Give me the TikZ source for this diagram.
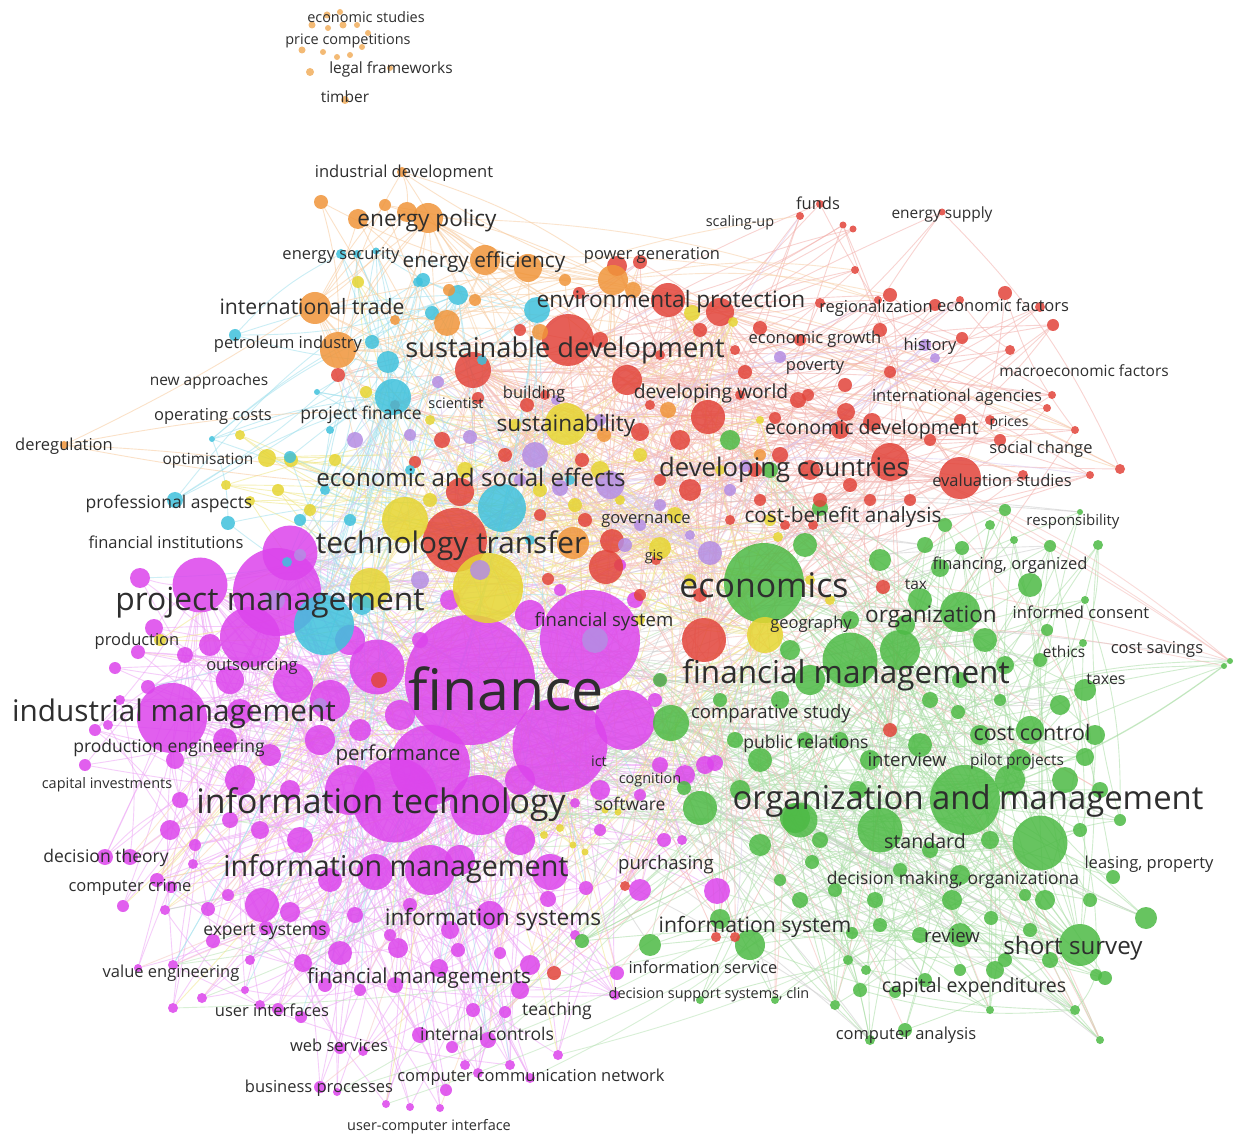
\documentclass[tikz,border=0pt]{standalone}
\usepackage{fontspec}
\setmainfont{Open Sans}
\pgfdeclarelayer{bglayer}
\pgfdeclarelayer{edgelayer}
\pgfsetlayers{bglayer,edgelayer,main}
\definecolor{cM}{HTML}{DC44EC}
\definecolor{cG}{HTML}{4DBA45}
\definecolor{cR}{HTML}{E2443A}
\definecolor{cC}{HTML}{3FC1DC}
\definecolor{cO}{HTML}{F0953A}
\definecolor{cOl}{HTML}{F2AE5E}
\definecolor{cY}{HTML}{E6D531}
\definecolor{cP}{HTML}{B48DE3}
\tikzset{
 bub/.style={circle, inner sep=0pt, outer sep=0pt, draw=none, fill opacity=0.85},
 lbl/.style={text=black!82, inner sep=0pt, anchor=base},
 edge/.style={line width=0.9pt, draw opacity=0.55},
}
\newcommand\clusteredges[4]{%
 \foreach \ci in {1,...,#2}{%
   \pgfmathrandominteger{\cj}{1}{#3}%
   \ifnum\ci=\cj\else \draw[edge,draw=#4] (#1\ci) to[bend left=8] (#1\cj);\fi
   \pgfmathrandominteger{\cj}{1}{#3}%
   \ifnum\ci=\cj\else \draw[edge,draw=#4] (#1\ci) to[bend right=6] (#1\cj);\fi
   \pgfmathrandominteger{\ck}{1}{#2}%
   \ifnum\ci=\ck\else \draw[edge,draw=#4] (#1\ci) to[bend right=10] (#1\ck);\fi
 }}
\newcommand\crossedges[6]{% prefixA, maxA, prefixB, maxB, count, color
 \foreach \ct in {1,...,#5}{%
   \pgfmathrandominteger{\ea}{1}{#2}%
   \pgfmathrandominteger{\eb}{1}{#4}%
   \draw[edge,draw=#6] (#1\ea) to[bend left=9] (#3\eb);
 }}
\begin{document}
\begin{tikzpicture}[x=1pt,y=-1pt]
\begin{pgfonlayer}{bglayer}
\fill[white] (0,0) rectangle (1254,1147);
\end{pgfonlayer}
\useasboundingbox (0,0) rectangle (1254,1147);
\pgfmathsetseed{12}
% ---------- magenta cluster
\foreach \x/\y/\dd [count=\i] in {
470/680/130, 590/640/100, 560/745/95, 430/765/80, 625/720/60, 395/800/85, 480/805/60, 350/790/50,
277/592/88, 200/585/55, 290/553/55, 250/637/60, 293/683/40, 172/718/70, 377/667/55, 330/700/40,
430/870/50, 550/872/36, 375/872/36, 262/905/34, 300/840/26, 240/780/30, 225/740/24, 320/740/30,
400/715/30, 350/640/30, 140/578/20, 154/628/18, 115/668/12, 148/687/14, 95/730/12, 85/765/12,
138/652/14, 185/655/16, 210/645/22, 230/680/28, 175/760/18, 270/755/22, 290/790/20, 180/800/16,
170/830/20, 230/820/16, 260/830/18, 195/845/12,
105/857/16, 130/857/16, 157/880/14, 171/887/12, 123/906/12, 193/864/10, 208/909/14, 228/895/12,
290/912/20, 330/880/24, 490/915/28, 548/899/16, 586/888/14, 640/890/22, 717/891/26, 664/840/14, 682/840/10, 600/830/12, 575/803/10, 705/765/18, 660/765/16, 640/795/12,
340/953/24, 398/948/20, 439/968/18, 458/950/14, 530/965/20, 520/990/18, 473/1010/14, 505/1012/12, 420/1035/16, 452/1047/12, 488/1040/16, 465/1065/10, 478/1073/10, 510/1065/10, 530/1078/10, 558/1055/10, 615/995/10, 617/973/14, 446/1090/12, 386/1104/8, 410/1107/8, 440/1108/8, 340/1048/12, 363/1051/10, 320/1087/12, 337/1092/8, 213/941/14, 278/1009/12, 301/1017/12, 202/998/10, 173/1008/10, 173/965/10, 138/968/8, 303/963/18, 325/985/14, 360/990/12, 395/985/16, 250/960/10, 266/928/14, 320/930/20, 355/915/16, 410/905/14, 390/935/12, 450/930/18, 575/935/10, 500/953/12,
260/1005/10, 245/990/8, 165/910/10,
655/700/14, 660/680/12, 635/600/16, 560/590/12, 530/615/30, 620/565/12, 450/600/20, 420/640/16, 360/730/22, 460/860/30, 520/840/30, 240/712/26, 120/700/10, 108/725/10, 685/775/20, 715/763/16, 600/790/20, 520/780/30}
{\node[bub,fill=cM,minimum size=\dd pt] (M\i) at (\x,\y) {}; \xdef\NM{\i}}
% ---------- green cluster
\foreach \x/\y/\dd [count=\i] in {
764/583/80, 850/660/55, 965/800/70, 1040/843/55, 880/830/45, 960/612/40, 900/650/40, 1080/945/42, 700/808/34, 800/820/35, 1010/780/30, 810/680/30, 671/723/36,
920/600/24, 1146/918/22, 1113/877/14, 1030/585/24, 1085/600/8, 880/560/22, 962/548/14, 1014/540/8, 1098/545/10, 1050/546/12, 1080/512/6, 1040/660/14, 1047/630/12, 1083/643/8, 1085/690/22, 1060/705/20, 1030/730/28, 1095/735/20, 1085/757/18, 958/712/14, 795/818/30, 760/845/22, 820/840/16, 858/790/18, 952/900/20, 960/875/20, 991/918/14, 920/935/16, 960/935/24, 1005/960/14, 995/970/18, 852/933/12, 848/960/10, 895/992/12, 905/1030/14, 750/945/30, 720/919/20, 650/945/22, 582/941/14, 812/862/14, 1075/1010/10, 1025/895/12, 684/788/14, 805/740/16, 805/545/24, 730/440/20, 770/470/16, 820/508/16, 945/525/14, 925/545/16, 1005/510/12, 990/525/10, 940/568/18, 905/625/20, 985/640/24, 1005/665/18, 960/680/16, 930/700/16, 1000/700/12, 980/735/20, 920/745/24, 870/760/20, 840/740/16, 760/760/24, 735/740/16, 720/700/14, 780/700/18, 790/650/20, 850/620/18, 1020/760/22, 1065/780/26, 1100/790/16, 1080/830/14, 1120/820/12, 990/840/18, 930/850/16, 900/870/14, 875/900/16, 835/890/14, 800/900/16, 780/880/12, 1045/900/20, 1090/900/14, 1030/930/14, 1050/960/16, 960/970/12, 925/980/14, 860/990/14, 835/1005/10, 775/1000/8, 700/1000/8, 870/1040/10, 990/1010/8, 1100/1040/8, 1224/666/6, 1230/661/6, 1096/975/12, 866/970/10, 880/925/14, 1105/978/14, 740/790/20, 660/680/14}
{\node[bub,fill=cG,minimum size=\dd pt] (G\i) at (\x,\y) {}; \xdef\NG{\i}}
% ---------- red cluster
\foreach \x/\y/\dd [count=\i] in {
568/340/52, 455/540/64, 704/640/44, 960/478/42, 890/462/38, 473/370/36, 668/300/34, 708/417/34, 606/567/34, 627/380/30, 720/312/28, 460/492/28,
680/440/20, 690/490/22, 617/266/20, 640/262/14, 579/293/12, 760/328/14, 800/340/12, 745/372/14, 798/400/16, 840/430/18, 872/422/18, 846/412/18, 890/295/14, 935/305/12, 1005/293/14, 1040/307/10, 1053/325/12, 962/338/12, 1010/350/10, 1052/395/8, 1047/408/8, 890/372/12, 845/385/14, 808/395/12, 880/330/14, 820/204/8, 800/216/8, 843/225/7, 853/229/7, 942/212/7, 612/541/24, 548/579/12, 527/405/14, 478/398/12, 442/440/16, 379/680/16, 656/560/10, 883/587/14, 890/730/14, 554/973/14, 625/886/10, 716/937/10, 735/937/10, 1120/469/10, 338/375/14, 640/432/18, 582/460/14, 755/470/14, 780/455/16, 810/470/20, 820/500/14, 850/485/14, 760/500/12, 730/520/10, 660/480/12, 700/595/14, 640/595/12, 585/520/14, 540/515/12, 505/455/14, 990/420/10, 1000/440/12, 960/420/12, 930/440/12, 910/500/12, 870/500/12, 1075/430/8, 1090/475/8, 1023/475/10, 700/330/14, 735/350/10, 660/355/10, 600/340/16, 520/330/12, 545/395/10, 740/395/10, 775/418/12, 813/525/10, 785/525/10, 395/405/10, 415/462/12, 650/405/10, 820/303/10, 855/270/8, 878/300/8, 960/300/8}
{\node[bub,fill=cR,minimum size=\dd pt] (R\i) at (\x,\y) {}; \xdef\NR{\i}}
% ---------- yellow cluster
\foreach \x/\y/\dd [count=\i] in {
488/588/70, 405/520/46, 566/424/42, 370/588/40, 765/635/36, 660/548/22,
358/282/12, 366/392/12, 240/435/10, 267/458/18, 291/460/14, 250/501/10, 278/490/12, 226/485/10, 692/313/16, 733/322/10, 675/515/16, 770/520/12, 160/640/12, 544/835/8, 560/828/8, 573/845/7, 585/852/7, 605/810/7, 618/812/7, 465/470/16, 430/500/14, 600/470/18, 640/455/14, 720/470/10, 778/537/10, 810/580/10, 830/600/10, 690/580/12, 620/500/10, 575/505/14, 335/460/12, 310/510/12, 430/420/10, 515/425/12, 540/490/14, 640/620/10, 760/420/8}
{\node[bub,fill=cY,minimum size=\dd pt] (Y\i) at (\x,\y) {}; \xdef\NY{\i}}
% ---------- cyan cluster
\foreach \x/\y/\dd [count=\i] in {
324/625/60, 502/508/48, 393/397/36, 537/310/26, 388/362/22, 458/295/20, 362/605/20,
372/342/14, 235/335/12, 418/282/10, 423/280/14, 432/313/14, 175/500/16, 228/523/14, 287/562/10, 341/254/10, 357/254/8, 376/251/7, 212/439/6, 290/457/12, 325/490/10, 300/520/12, 350/520/12, 410/470/10, 530/540/10, 570/480/10, 330/430/8, 317/392/6, 482/360/10}
{\node[bub,fill=cC,minimum size=\dd pt] (C\i) at (\x,\y) {}; \xdef\NC{\i}}
% ---------- orange cluster
\foreach \x/\y/\dd [count=\i] in {
428/218/30, 338/350/36, 315/308/32, 485/260/30, 528/268/28, 613/280/30, 573/543/32, 447/323/26,
321/202/14, 358/219/20, 385/205/12, 407/212/20, 633/290/16, 540/332/16, 402/172/10, 449/290/12, 668/410/16, 604/435/14, 64/445/8, 760/455/12, 565/280/12, 395/320/10, 475/300/12}
{\node[bub,fill=cO,minimum size=\dd pt] (O\i) at (\x,\y) {}; \xdef\NO{\i}}
% ---------- small orange group (top)
\foreach \x/\y/\dd [count=\i] in {
312/25/7, 327/15/7, 340/12/6, 343/25/7, 368/33/6, 302/50/7, 323/52/6, 337/57/6, 350/55/6, 362/47/6, 310/72/8, 390/68/6, 345/100/8, 328/28/6, 357/25/6}
{\node[bub,fill=cOl,minimum size=\dd pt] (T\i) at (\x,\y) {}; \xdef\NT{\i}}
% ---------- purple cluster
\foreach \x/\y/\dd [count=\i] in {
610/485/28, 535/455/26, 595/640/26, 710/553/24, 275/600/20, 480/570/20,
780/357/12, 925/345/12, 935/358/10, 438/382/12, 355/440/16, 410/435/12, 470/437/14, 600/420/12, 625/545/14, 640/525/12, 556/400/10, 420/580/18, 690/535/10, 730/490/12, 660/505/12, 745/466/12, 320/705/14, 560/488/16, 520/480/12, 300/555/12}
{\node[bub,fill=cP,minimum size=\dd pt] (P\i) at (\x,\y) {}; \xdef\NP{\i}}
% ---------- edges
\begin{pgfonlayer}{edgelayer}
\clusteredges{M}{\NM}{16}{cM!48}
\clusteredges{G}{\NG}{13}{cG!48}
\clusteredges{R}{\NR}{12}{cR!42}
\clusteredges{Y}{\NY}{6}{cY!60}
\clusteredges{C}{\NC}{7}{cC!50}
\clusteredges{O}{\NO}{8}{cO!50}
\clusteredges{P}{\NP}{6}{cP!50}
\crossedges{M}{16}{G}{\NG}{70}{gray!40}
\crossedges{G}{13}{M}{\NM}{50}{cG!40}
\crossedges{R}{12}{G}{\NG}{50}{cR!35}
\crossedges{R}{12}{M}{\NM}{40}{cR!30}
\crossedges{O}{8}{R}{\NR}{30}{cO!45}
\crossedges{O}{8}{M}{\NM}{25}{cO!40}
\crossedges{Y}{6}{M}{\NM}{30}{cY!55}
\crossedges{C}{7}{M}{\NM}{30}{cC!45}
\crossedges{P}{6}{R}{\NR}{20}{cP!45}
\end{pgfonlayer}
% ---------- labels (font size = 1.02*s + 1.2)
\foreach \x/\y/\ls/\lt [count=\i] in {
366/18/13/economic studies, 348/40/13/price competitions, 391/68/14/legal frameworks, 345/97/14/timber,
404/172/15/industrial development, 427/219/21/energy policy, 341/254/15/energy security, 484/260/19.2/energy efficiency,
652/254/15/power generation, 818/204/15/funds, 740/222/13/scaling-up, 942/213/14/energy supply,
312/307/19.6/international trade, 671/300/21/environmental protection, 876/307/15/regionalization, 1003/306/15/economic factors,
288/343/15/petroleum industry, 565/348/25.5/sustainable development, 815/338/15/economic growth, 930/345/15/history,
815/365/15/poverty, 1084/371/14/macroeconomic factors, 209/380/14/new approaches, 534/393/15/building,
711/392/17.7/developing world, 957/396/15/international agencies, 213/415/15/operating costs, 361/414/16/project finance,
456/404/13/scientist, 566/424/21/sustainability, 872/428/18/economic development, 1009/422/12.5/prices,
64/445/15/deregulation, 1041/448/15/social change, 208/459/14/optimisation, 784/468/24/developing countries,
471/478/22.5/economic and social effects, 1002/481/15/evaluation studies, 169/503/16/professional aspects, 646/518/15/governance,
843/515/19.2/cost-benefit analysis, 1073/520/13.5/responsibility, 166/543/15/financial institutions, 451/543/28/technology transfer,
654/556/13/gis, 764/586/32/economics, 916/584/14/tax, 270/600/30/project management,
604/620/17/financial system, 811/623/15/geography, 931/615/21/organization, 1081/613/15/informed consent,
1064/652/14/ethics, 1157/648/15/cost savings, 137/640/15/production, 252/665/15/outsourcing,
506/691/55/finance, 846/673/29.7/financial management, 1106/679/14.5/taxes, 174/711/28/industrial management,
771/712/17/comparative study, 169/747/16/production engineering, 398/754/19/performance, 806/743/16/public relations,
1032/733/19.8/cost control, 907/760/17/interview, 1017/760/14/pilot projects, 107/784/13/capital investments,
599/762/13/ict, 650/779/13/cognition, 381/802/32/information technology, 630/805/16/software,
968/798/31/organization and management, 925/842/18/standard, 106/857/16/decision theory, 130/886/15/computer crime,
396/867/27/information management, 666/863/17/purchasing, 493/918/21/information systems, 755/925/19.6/information system,
265/930/16/expert systems, 952/936/17/review, 1073/946/22.5/short survey, 171/972/15/value engineering,
419/976/19/financial managements, 703/968/15/information service, 974/986/18/capital expenditures, 272/1011/15/user interfaces,
557/1010/16/teaching, 487/1035/16/internal controls, 906/1034/15/computer analysis, 339/1046/15/web services,
531/1076/15/computer communication network, 319/1087/15/business processes, 429/1126/13/user-computer interface}
{\pgfmathsetmacro\fs{1.02*\ls+1.2}%
 \node[lbl,font=\fontsize{\fs}{\fs}\selectfont] (L\i) at ({\x},{\y+0.34*\fs}) {\lt};}
\node[lbl,font=\fontsize{16.5}{16.5}\selectfont] (Lfo) at (1010,569) {financing, organized};
\node[lbl,font=\fontsize{16.5}{16.5}\selectfont] (Llp) at (1149,868) {leasing, property};
\node[lbl,font=\fontsize{17.5}{17.5}\selectfont] (Ldm) at (953,884) {decision making, organizationa};
\node[lbl,font=\fontsize{14.4}{14.4}\selectfont] (Lds) at (709,998) {decision support systems, clin};
\end{tikzpicture}
\end{document}
